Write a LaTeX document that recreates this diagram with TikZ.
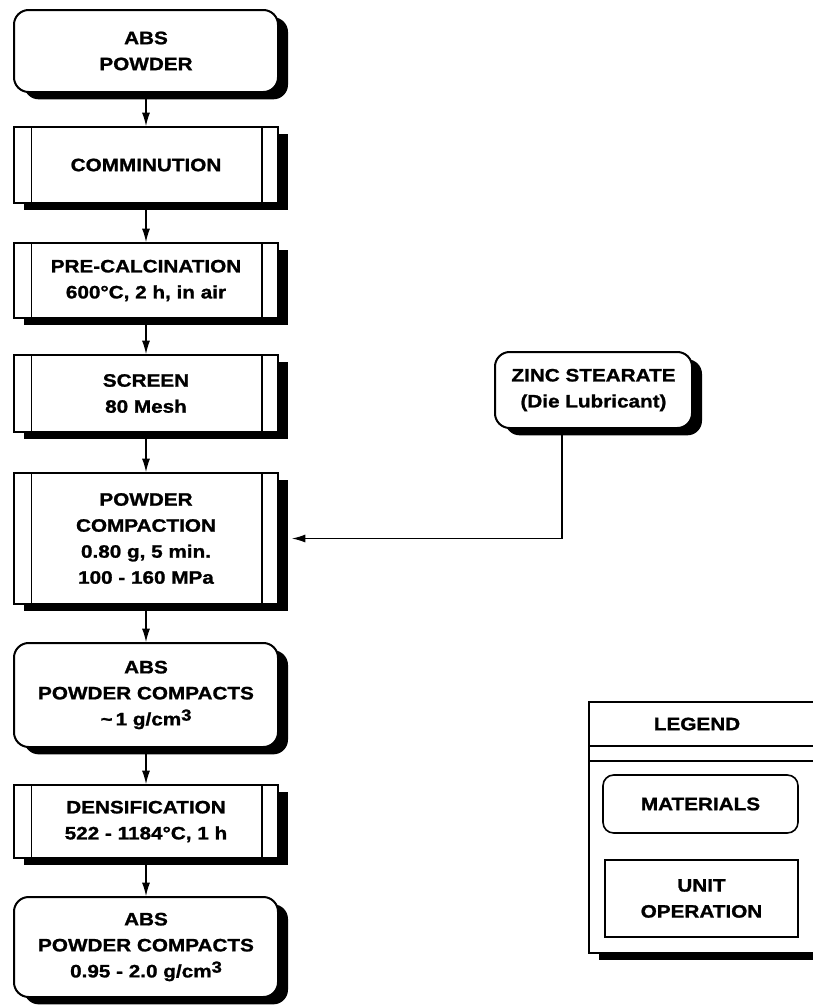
\documentclass[tikz,border=0pt]{standalone}
\usepackage{fontspec}
\setmainfont{Liberation Sans}[FakeStretch=1.15,FakeBold=1.2]
\usetikzlibrary{arrows.meta,calc,shadows}
\newcommand{\cubic}{\raisebox{0.5ex}{\fontsize{12}{12}\selectfont 3}}
\tikzset{
every node/.style={font=\bfseries\fontsize{13.5}{19.5}\selectfont, align=center, inner sep=0pt}, % all labels
boxshadow/.style={drop shadow={shadow xshift=7.5pt, shadow yshift=-5.5pt, fill=black, opacity=1}},
material/.style={draw, line width=1.5pt, rounded corners=11pt, fill=white, minimum width=198pt, boxshadow},
unitop/.style={draw, line width=1.5pt, fill=white, minimum width=198pt, boxshadow,
  path picture={
    \draw[line width=0.8pt] ([xshift=13pt]path picture bounding box.north west) -- ([xshift=13pt]path picture bounding box.south west);
    \draw[line width=0.8pt] ([xshift=-12pt]path picture bounding box.north east) -- ([xshift=-12pt]path picture bounding box.south east);
  }},
flow/.style={-{Latex[length=10pt,width=6pt]}, line width=0.8pt},
}

\begin{document}
\begin{tikzpicture}[x=0.75pt,y=-0.75pt]
\useasboundingbox (0,0) rectangle (813,1007);
\clip (0,0) rectangle (813,1007);
%Main column
\node[material, minimum height=61.5pt] (abs) at (146,51) {ABS\\POWDER};
\node[unitop, minimum height=57pt] (comm) at (146,165) {COMMINUTION};
\node[unitop, minimum height=56.25pt] (calc) at (146,280.5) {PRE-CALCINATION\\600°C, 2 h, in air};
\node[unitop, minimum height=57.75pt] (screen) at (146,393.5) {SCREEN\\80 Mesh};
\node[unitop, minimum height=98.25pt] (pc) at (146,538.5) {POWDER\\COMPACTION\\0.80 g, 5 min.\\100 - 160 MPa};
\node[material, minimum height=78pt] (comp) at (146,695) {ABS\\POWDER COMPACTS\\\textasciitilde\,1 g/cm\cubic};
\node[unitop, minimum height=54.75pt] (dens) at (146,821.5) {DENSIFICATION\\522 - 1184°C, 1 h};
\node[material, minimum height=75pt] (final) at (146,947) {ABS\\POWDER COMPACTS\\0.95 - 2.0 g/cm\cubic};
%Side material
\node[material, minimum width=147.75pt, minimum height=57pt] (zinc) at (593.5,390) {ZINC STEARATE\\(Die Lubricant)};
%Arrows
\draw[flow] (abs) -- (comm);
\draw[flow] (comm) -- (calc);
\draw[flow] (calc) -- (screen);
\draw[flow] (screen) -- (pc);
\draw[flow] (pc) -- (comp);
\draw[flow] (comp) -- (dens);
\draw[flow] (dens) -- (final);
\draw[flow] ($(zinc.south)+(-31.5,0)$) |- ($(pc.east)+(13,0)$);
%Legend
\node[draw, line width=1.5pt, fill=white, boxshadow, minimum width=170.25pt, minimum height=188.25pt] (legend) at (702.5,827.5) {};
\node (legtitle) at (697,724) {LEGEND};
\draw[line width=1.2pt] ($(legend.north west)+(0,45)$) -- ($(legend.north east)+(0,45)$);
\draw[line width=1.2pt] ($(legend.north west)+(0,60)$) -- ($(legend.north east)+(0,60)$);
\node[draw, line width=1.2pt, rounded corners=8pt, minimum width=146.25pt, minimum height=43.5pt] (legmat) at (700.5,804) {MATERIALS};
\node[draw, line width=1.2pt, minimum width=144.75pt, minimum height=57.75pt] (legunit) at (701.5,898.5) {UNIT\\OPERATION};
\end{tikzpicture}
\end{document}
